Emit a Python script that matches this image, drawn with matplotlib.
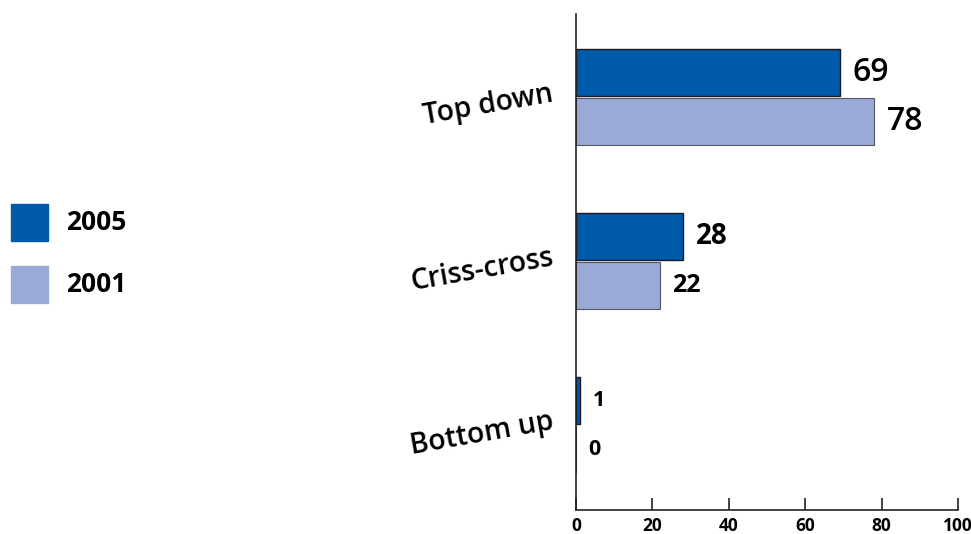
import matplotlib
matplotlib.use("Agg")
import matplotlib.pyplot as plt
from matplotlib.patches import Rectangle
import numpy as np

plt.rcParams["font.family"] = ["Open Sans", "DejaVu Sans"]
plt.rcParams["font.weight"] = "semibold"

# Data
categories = ["Top down", "Criss-cross", "Bottom up"]
years = ["2005", "2001"]
values_2005 = [69, 28, 1]
values_2001 = [78, 22, 0]
x_ticks = [0, 20, 40, 60, 80, 100]

# Styling
color_2005 = "#005AAA"
color_2001 = "#99AAD6"
label_sizes_2005 = [23, 20, 15.5]
label_sizes_2001 = [23, 18, 15.5]
label_weights = ["semibold", "bold", "bold"]

fig = plt.figure(figsize=(9.71, 5.34), dpi=100)
ax = fig.add_axes([576 / 971, 24 / 534, 382 / 971, 496 / 534])

y = np.arange(len(categories))
h = 0.287
off = 0.147

bars_05 = ax.barh(y - off, values_2005, height=h, color=color_2005,
                  edgecolor="#1a1a2a", linewidth=1.0)
bars_01 = ax.barh(y + off, values_2001, height=h, color=color_2001,
                  edgecolor="#555566", linewidth=0.8)

for bars, vals, sizes in [(bars_05, values_2005, label_sizes_2005),
                          (bars_01, values_2001, label_sizes_2001)]:
    for b, v, fs, fw in zip(bars, vals, sizes, label_weights):
        ax.annotate(f"{v}", (b.get_width(), b.get_y() + b.get_height() / 2),
                    xytext=(9, 0), textcoords="offset points",
                    ha="left", va="center", fontsize=fs,
                    fontweight=fw, color="black")

ax.set_xlim(0, 100)
ax.set_ylim(2.518, -0.506)
ax.set_xticks(x_ticks)
ax.set_xticklabels([str(t) for t in x_ticks], fontsize=12.5,
                   fontweight="bold")
ax.tick_params(axis="x", direction="in", length=8.5, width=1.2,
               pad=5, color="#222222")
ax.set_yticks([])

for s in ["top", "right"]:
    ax.spines[s].set_visible(False)
for s in ["left", "bottom"]:
    ax.spines[s].set_linewidth(1.2)
    ax.spines[s].set_color("#222222")

# Rotated category labels to the left of the axis
for yi, cat in zip(y, categories):
    ax.text(-6, yi - 0.02, cat, rotation=10, rotation_mode="anchor",
            ha="right", va="center", fontsize=20.3, fontweight="semibold",
            transform=ax.transData, clip_on=False)

# Legend squares
legend_colors = [color_2005, color_2001]
for i, (yr, c) in enumerate(zip(years, legend_colors)):
    top = 204 + i * 62
    fig.patches.append(Rectangle((11 / 971, 1 - (top + 37) / 534),
                                 37 / 971, 37 / 534, color=c,
                                 transform=fig.transFigure))
    fig.text(66 / 971, 1 - (top + 19) / 534, yr, fontsize=19,
             fontweight="bold", va="center", ha="left")

fig.savefig("out.png", dpi=100)
